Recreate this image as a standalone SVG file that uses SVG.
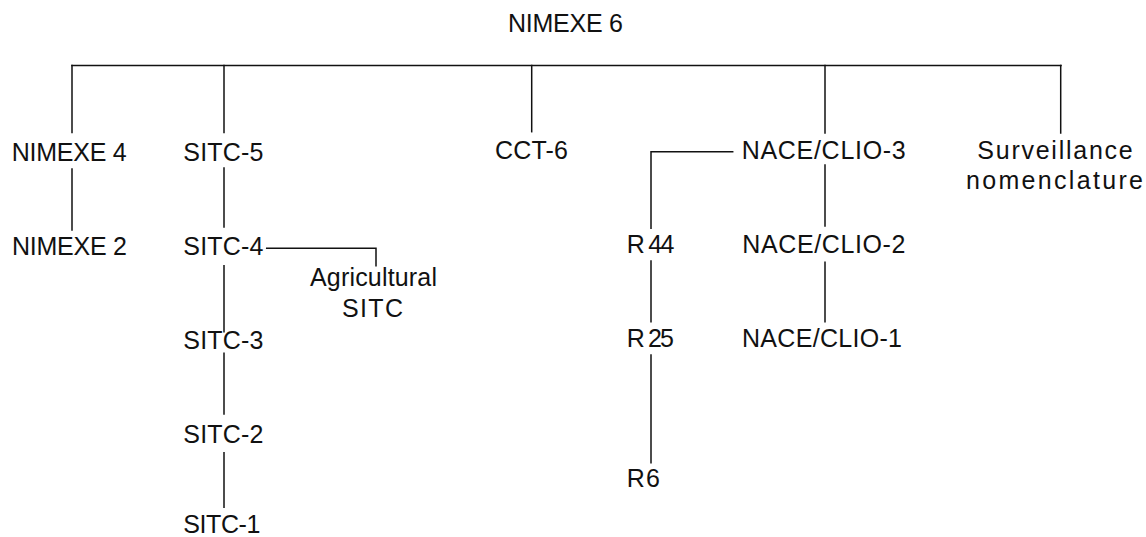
<svg xmlns="http://www.w3.org/2000/svg" width="1146" height="537" viewBox="0 0 1146 537">
<style>
  .bg { fill: #ffffff; }
  .lbl { font-family: "Liberation Sans", Arial, sans-serif; font-size: 25px; fill: #111111; }
  .conn { fill: none; stroke: #111111; stroke-width: 1.5; stroke-linecap: square; }
</style>
<rect class="bg" x="0" y="0" width="1146" height="537"/>
<g id="connectors">
  <path class="conn" d="M72 65.5 H1061"/>
  <path class="conn" d="M72 65.5 V132.5"/>
  <path class="conn" d="M224 65.5 V132.5"/>
  <path class="conn" d="M531.7 65.5 V131.7"/>
  <path class="conn" d="M825 65.5 V133"/>
  <path class="conn" d="M1060.7 65.5 V133"/>
  <path class="conn" d="M72 169 V230"/>
  <path class="conn" d="M224 168 V227"/>
  <path class="conn" d="M266.7 248.3 H376 V265.7"/>
  <path class="conn" d="M224 265.7 V331.7"/>
  <path class="conn" d="M224 353.3 V414"/>
  <path class="conn" d="M224 452.7 V507.3"/>
  <path class="conn" d="M732.7 151.7 H651 V228.3"/>
  <path class="conn" d="M651 261 V321.7"/>
  <path class="conn" d="M651 355 V462.7"/>
  <path class="conn" d="M825 165 V226"/>
  <path class="conn" d="M825 262.3 V321.7"/>
</g>
<g id="nimexe6"><text class="lbl" x="508" y="32.3" textLength="115" lengthAdjust="spacing">NIMEXE 6</text></g>
<g id="nimexe4"><text class="lbl" x="11.7" y="160.5" textLength="115" lengthAdjust="spacing">NIMEXE 4</text></g>
<g id="nimexe2"><text class="lbl" x="12" y="255" textLength="115" lengthAdjust="spacing">NIMEXE 2</text></g>
<g id="sitc5"><text class="lbl" x="183.3" y="160.5" textLength="80" lengthAdjust="spacing">SITC-5</text></g>
<g id="sitc4"><text class="lbl" x="183.3" y="255" textLength="80" lengthAdjust="spacing">SITC-4</text></g>
<g id="agri-sitc">
  <text class="lbl" x="310" y="286" textLength="127" lengthAdjust="spacing">Agricultural</text>
  <text class="lbl" x="342" y="316.7" textLength="61" lengthAdjust="spacing">SITC</text>
</g>
<g id="sitc3"><text class="lbl" x="183.3" y="349.3" textLength="80" lengthAdjust="spacing">SITC-3</text></g>
<g id="sitc2"><text class="lbl" x="183.3" y="442.7" textLength="80" lengthAdjust="spacing">SITC-2</text></g>
<g id="sitc1"><text class="lbl" x="183.3" y="533.3" textLength="77" lengthAdjust="spacing">SITC-1</text></g>
<g id="cct6"><text class="lbl" x="495" y="159.3" textLength="73" lengthAdjust="spacing">CCT-6</text></g>
<g id="nace3"><text class="lbl" x="741.7" y="159" textLength="164" lengthAdjust="spacing">NACE/CLIO-3</text></g>
<g id="nace2"><text class="lbl" x="742.3" y="253.3" textLength="163" lengthAdjust="spacing">NACE/CLIO-2</text></g>
<g id="nace1"><text class="lbl" x="742" y="346.7" textLength="160" lengthAdjust="spacing">NACE/CLIO-1</text></g>
<g id="r44"><text class="lbl" x="626.7" y="253.3" textLength="47.6" lengthAdjust="spacing">R 44</text></g>
<g id="r25"><text class="lbl" x="626.7" y="346.7" textLength="47.3" lengthAdjust="spacing">R 25</text></g>
<g id="r6"><text class="lbl" x="626.7" y="486.7" textLength="33.3" lengthAdjust="spacing">R 6</text></g>
<g id="surveillance">
  <text class="lbl" x="977.3" y="159" textLength="155.4" lengthAdjust="spacing">Surveillance</text>
  <text class="lbl" x="966" y="189" textLength="177" lengthAdjust="spacing">nomenclature</text>
</g>
</svg>
